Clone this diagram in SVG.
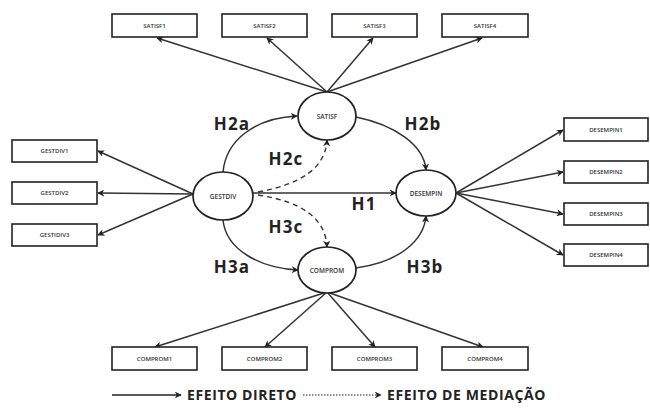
<svg xmlns="http://www.w3.org/2000/svg" width="650" height="410" viewBox="0 0 650 410">
<style>
.box{fill:#fff;stroke:#222;stroke-width:1.6}
.ell{fill:#fff;stroke:#222;stroke-width:1.7}
.bt{font-family:"Open Sans","DejaVu Sans",sans-serif;font-size:6px;font-weight:600;fill:#333;text-anchor:middle}
.et{font-family:"Open Sans","DejaVu Sans",sans-serif;font-size:6.5px;font-weight:600;fill:#333;text-anchor:middle}
.h{font-family:"Open Sans","DejaVu Sans",sans-serif;font-size:17px;font-weight:700;fill:#222;text-anchor:middle;letter-spacing:1.2px}
.lg{font-family:"Open Sans","DejaVu Sans",sans-serif;font-size:14px;font-weight:700;fill:#222;letter-spacing:0.6px}
.c{fill:none;stroke:#333;stroke-width:1.5;marker-end:url(#ah)}
.d{fill:none;stroke:#333;stroke-width:1.4;stroke-dasharray:5 4;marker-end:url(#ah)}
</style>
<defs>
<marker id="ah" viewBox="0 0 10 10" refX="9" refY="5" markerWidth="7" markerHeight="7" markerUnits="userSpaceOnUse" orient="auto">
<path d="M0,0 L10,5 L0,10 L3,5 Z" fill="#222"/>
</marker>
</defs>
<rect width="650" height="410" fill="#fff"/>
<g id="connectors">
<path class="c" d="M327,92 L157,38"/>
<path class="c" d="M327,92 L267,38"/>
<path class="c" d="M327,92 L373,38"/>
<path class="c" d="M327,92 L482,38"/>
<path class="c" d="M193,194 L98,151"/>
<path class="c" d="M193,194 L98,193"/>
<path class="c" d="M193,194 L98,235"/>
<path class="c" d="M456,193 L563,130"/>
<path class="c" d="M456,193 L563,172"/>
<path class="c" d="M456,193 L563,214"/>
<path class="c" d="M456,193 L563,255"/>
<path class="c" d="M327,292 L155,347"/>
<path class="c" d="M327,292 L265,347"/>
<path class="c" d="M327,292 L375,347"/>
<path class="c" d="M327,292 L483,347"/>
<path class="c" d="M223,172 C226,140 255,118 297,116"/>
<path class="c" d="M356,117 C395,125 424,145 426,170"/>
<path class="c" d="M223,220 C226,250 260,268 298,270"/>
<path class="c" d="M356,268 C400,262 424,240 426,216"/>
<path class="c" d="M253,193 L396,193"/>
<path class="d" d="M258,192 Q325,180 327,140"/>
<path class="d" d="M258,195 Q325,205 327,247"/>
</g>
<g id="SATISF1"><rect class="box" x="112" y="14" width="85" height="23"/><text class="bt" x="154.5" y="27.5">SATISF1</text></g>
<g id="SATISF2"><rect class="box" x="222" y="14" width="85" height="23"/><text class="bt" x="264.5" y="27.5">SATISF2</text></g>
<g id="SATISF3"><rect class="box" x="332" y="14" width="85" height="23"/><text class="bt" x="374.5" y="27.5">SATISF3</text></g>
<g id="SATISF4"><rect class="box" x="442" y="14" width="86" height="23"/><text class="bt" x="485" y="27.5">SATISF4</text></g>
<g id="GESTDIV1"><rect class="box" x="12" y="140" width="85" height="22"/><text class="bt" x="54.5" y="153">GESTDIV1</text></g>
<g id="GESTDIV2"><rect class="box" x="12" y="182" width="85" height="22"/><text class="bt" x="54.5" y="195">GESTDIV2</text></g>
<g id="GESTIDIV3"><rect class="box" x="12" y="224" width="85" height="22"/><text class="bt" x="54.5" y="237">GESTIDIV3</text></g>
<g id="DESEMPIN1"><rect class="box" x="564" y="118" width="84" height="23"/><text class="bt" x="606" y="131.5">DESEMPIN1</text></g>
<g id="DESEMPIN2"><rect class="box" x="564" y="161" width="84" height="22"/><text class="bt" x="606" y="174">DESEMPIN2</text></g>
<g id="DESEMPIN3"><rect class="box" x="564" y="203" width="84" height="22"/><text class="bt" x="606" y="216">DESEMPIN3</text></g>
<g id="DESEMPIN4"><rect class="box" x="564" y="244" width="84" height="22"/><text class="bt" x="606" y="257">DESEMPIN4</text></g>
<g id="COMPROM1"><rect class="box" x="112" y="347" width="85" height="23"/><text class="bt" x="154.5" y="360.5">COMPROM1</text></g>
<g id="COMPROM2"><rect class="box" x="222" y="347" width="85" height="23"/><text class="bt" x="264.5" y="360.5">COMPROM2</text></g>
<g id="COMPROM3"><rect class="box" x="332" y="347" width="85" height="23"/><text class="bt" x="374.5" y="360.5">COMPROM3</text></g>
<g id="COMPROM4"><rect class="box" x="442" y="347" width="86" height="23"/><text class="bt" x="485" y="360.5">COMPROM4</text></g>
<g id="SATISF"><ellipse class="ell" cx="327" cy="116" rx="29" ry="24"/><text class="et" x="327" y="118.5">SATISF</text></g>
<g id="GESTDIV"><ellipse class="ell" cx="223" cy="196" rx="30" ry="24"/><text class="et" x="223" y="198.5">GESTDIV</text></g>
<g id="DESEMPIN"><ellipse class="ell" cx="426" cy="193" rx="30" ry="23"/><text class="et" x="426" y="195.5">DESEMPIN</text></g>
<g id="COMPROM"><ellipse class="ell" cx="327" cy="270" rx="29" ry="23"/><text class="et" x="327" y="272.5">COMPROM</text></g>
<g id="labels">
<text class="h" x="232" y="130">H2a</text>
<text class="h" x="423" y="130">H2b</text>
<text class="h" x="286" y="165">H2c</text>
<text class="h" x="364" y="210">H1</text>
<text class="h" x="286" y="233">H3c</text>
<text class="h" x="232" y="273">H3a</text>
<text class="h" x="425" y="273">H3b</text>
</g>
<g id="legend">
<line x1="112" y1="395" x2="181" y2="395" stroke="#222" stroke-width="1.4" marker-end="url(#ah)"/>
<text class="lg" x="187" y="400">EFEITO DIRETO</text>
<line x1="303" y1="395" x2="381" y2="395" stroke="#222" stroke-width="1.2" stroke-dasharray="1.5 1.5" marker-end="url(#ah)"/>
<text class="lg" x="387" y="400">EFEITO DE MEDIAÇÃO</text>
</g>
</svg>
